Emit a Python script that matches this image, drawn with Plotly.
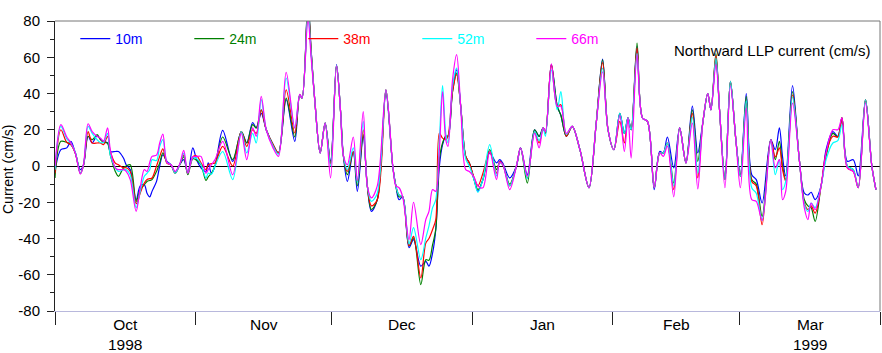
import pandas as pd
import plotly.graph_objects as go

start = pd.Timestamp("1998-10-01")

# time offsets (days since 1998-10-01)
days = [0, 1.3, 2.6, 3.5, 4.5, 5.6, 6.3, 7.3, 8.2, 9.3, 10, 10.7, 11.6, 12.2, 13.3, 14, 15.1, 15.7, 16.6,
        17.9, 18.8, 19.7, 20.3, 20.9, 21.4, 22.4, 23.1, 23.8, 24.7, 25.6, 26.5, 27.5, 28.4, 29.3, 30.4,
        31.3, 32.2, 33.3, 33.8, 34.5, 35.3, 37, 39.2, 41.1, 42.3, 43.6, 44.4, 45.5, 46.6, 48.1, 49.3,
        51, 52.9, 54, 54.5, 55.8, 56.5, 57.3, 58.5, 59.6, 60.8, 62.1, 63.0, 63.6, 64.5, 65.8, 66.7,
        68, 68.9, 69.8, 71.1, 73, 74.5, 75.2, 75.9, 76.7, 78.1, 79.1, 80.7, 81.8, 82.5, 83.3, 84,
        84.8, 85.5, 86.2, 86.7, 87.7, 88.6, 89.5, 90.6, 91.4, 92.4, 93.3, 94.4, 95.9, 97.4, 98.1,
        98.8, 100.3, 101.8, 102.7, 104.2, 105.8, 106.8, 107.7, 108.2, 109.5, 110.8, 111.6, 112.8,
        114.1, 115.8, 117.8, 119.4, 120.8, 122, 123.3, 124.6, 125.6, 126.4, 127.1, 128.4, 129.6,
        130.7, 132.2, 133.4, 134.2, 135.1, 136.5, 137.8, 139.2, 140.6, 141.8, 142.9, 144, 144.7,
        145.8, 146.6, 147.8, 149, 150.2, 151.2, 152.5, 153.7, 154.7, 156, 157.9, 158.9, 159.8,
        160.5, 161.2, 162.7, 164.2, 165.3, 166.1, 166.8, 167.7, 169, 170.1, 171.6, 172.7, 173.6,
        174.8, 176.1, 177.2, 178.8, 180.2, 181.1]

v10m = [-3, 9, 10, 13.6, 7, -2, 0.7, 16.4, 12.7, 16.7, 15, 13.6, 12.7, 8, 8, 8, 4.4, 0.7, -2,
        -18.6, -11, -10.3, -15, -17, -14, -8.5, 0, 6.2, 2.6, 0.7, -3.5, 0.7, 3.5, -4, 10,
        3, -1, -3, 1.7, -4, 0, 19.7, 2.6, 19, 12.7, 24, 21, 29, 20, 11.8, 7.2,
        36.6, 13.6, 39.3, 37.5, 90, 64, 36.6, 7.2, 23.7, 2.6, 55.9, 30, 6, -8.5, 8, -14,
        16.4, -11, -25, -18.6, 40, 0, -11, -18.6, -17, -45, -40.6, -55.3, -52.6, -55.3, -48, -35,
        0, 11.8, 16.4, 16.4, 42, 53, 33, 5.3, 1.7, -7, -14, -7.5, 7.2, 1.7, 3.5,
        1.5, -6.6, 0, 10, -4.8, 20, 16.4, 21, 18, 56, 33, 28, 16.4,
        21.9, 9, -12, 23.7, 59, 20, 9, 29, 18, 26.5, 20, 66, 26.5,
        24.6, -13, 8, 7.2, 16, -1, 21, 1.7, 33, 7.2, 23.7, 40, 31,
        59.5, 31, -7.5, 46.7, 14.5, -4.8, 40, -4.8, -7.5, -20.4, 14.5, 9, 21,
        5, -5.5, 44.3, 3.5, -14.9, -16, -14.5, -18.6, -11, 9, 19, 16.4, 26.5,
        2.6, 3.5, -5.5, 36.6, 0, -13]

v24m = [-6.6, 13.6, 13, 11.8, 7, -4, 0.5, 16.4, 14.5, 17.3, 14.5, 13, 12.7, 6, -3, -5.7, -1, 0, 0.7,
        -19.5, -13, -10.3, -8.5, -8, -7.5, -3, 1.7, 7.2, 2, 0.5, -4, 0.5, 5, -4.8, 4,
        3, 0.7, -8, -6, -4, 0, 16, 3.5, 19, 12.7, 22.8, 21, 31, 20, 11.8, 7.2,
        37.5, 16, 39.3, 37.5, 91, 64, 36.6, 7.2, 23.7, 1.5, 55.5, 30, 6, -4.8, 8, -11,
        17.3, -11, -24, -18.6, 42, 0, -11, -17, -17, -44, -39.7, -65.4, -51.7, -52, -43.4, -35,
        3.5, 12.7, 16.4, 16.4, 41, 51.3, 33, 5.3, 1.7, -7, -13, -7.5, 9, -2, 2,
        0.7, -10, 0, 10, -9.4, 20, 16.4, 21, 18, 56, 33, 28, 16.4,
        21.9, 9, -12, 23.7, 58.5, 20, 9, 29, 18, 26.5, 20, 67.8, 26.5,
        24.6, -12, 7.2, 7.2, 12.7, -9.4, 21, 1.7, 31, 2.6, 23.7, 40, 31,
        62, 31, -7.5, 46.7, 14.5, -5.7, 38.4, -7.5, -10, -27.8, 14.5, 3.5, 13.6,
        0, -7.5, 41, 3.5, -18.6, -22, -23, -30.5, -11, 5.3, 18, 16, 26.5,
        0, -2, -12, 36.6, 0, -13]

v38m = [-4, 20, 13, 11.8, 7, -4, 0.7, 19, 12.7, 12.7, 12.7, 11.8, 16.4, 8, 1.6, 0.7, -1, -1, -3,
        -20.8, -15, -9.4, -7.5, -7, -6.6, 0, 5.3, 9.4, 1.5, 0.7, -4, 0.7, 6, -4, 5,
        5.5, 1.7, -2, 0.7, 1.3, 1.7, 10.8, 0, 19, 10.8, 20, 18, 31, 20, 11.8, 7.2,
        42, 18.2, 39.3, 37.5, 88, 63, 36.6, 7.2, 23.7, 1, 55.5, 30, 6, -3, 8, -8.5,
        20, -11, -22, -18.6, 42, 0, -11, -16, -17, -44, -38.8, -61.8, -42.5, -40, -35, -29.6,
        18.2, 15.4, 14.5, 16.4, 41, 50.4, 33, 5.3, 1.7, -6, -11, -4, 8, -4, 2.5,
        0.7, -11, 0, 10, -6.6, 19, 12.7, 21, 18, 56, 33, 33.8, 16.4,
        21.9, 9, -12, 23.7, 57, 20, 9, 24.6, 12.7, 26.5, 20, 65, 26.5,
        24.6, -12, 7.2, 7.2, 12.7, -13, 21, 1.7, 29, -6.6, 23.7, 40, 31,
        61, 31, -7.5, 46.7, 14.5, -5.7, 34.7, -8.5, -11, -32.4, 14.5, 5, 10,
        -2, -8.5, 39.3, 3.5, -20.4, -24, -22, -26, -11, 7.2, 16.4, 16, 26.5,
        -1, -3, -12, 36.6, 0, -13]

v52m = [-2, 21.9, 15, 12.5, 7.5, -4, 0.7, 21.9, 18, 14.5, 13, 13, 18, 6, -1, -3, -2, -2, -5,
        -23, -14, -5.7, -4, -2, 3.5, 3, 10.8, 14.5, 2, 0.8, -4, 0.7, 7, -4, 4.5,
        4, 1, -6.6, -4, -4.5, 0, 8, -7.5, 19, 7.2, 18, 12.7, 36.6, 20, 11, 6.5,
        48.5, 21, 39.3, 37.5, 85, 62, 36.6, 7.2, 23.7, 0, 55.5, 30, 6, -2, 10, -9,
        24.6, -11, -19.5, -15, 42, 0, -11, -16, -17, -43, -34, -51.7, -39.7, -33, -23, -18.6,
        14.5, 44.3, 18.2, 12.7, 44, 54, 33, 4, 0, -7, -14.5, -7.5, 11.8, -5.5, 2,
        0.7, -11, 0, 10, -7, 19, 14, 21, 16.4, 53, 31, 41, 17.5,
        21.9, 9, -12, 23.7, 54, 20, 9, 29, 18, 26.5, 20, 62, 26.5,
        24.6, -12, 7.2, 7.2, 12.7, -11, 21, 1.7, 27, -4, 23.7, 40, 31,
        59.5, 31, -7.5, 46.7, 14.5, -5.7, 36, -12, -15, -30, 14.5, -4.8, 3.5,
        -13, -8.5, 38, 3.5, -21, -25, -20.5, -23, -11, 3.5, 12.7, 14, 22.8,
        0, -2, -12, 36.6, 0, -13]

v66m = [0, 22.8, 16, 12.7, 7, -4.5, 1, 23.3, 19, 16.4, 15.4, 13.6, 21, 9, -1, -2, -2, -3, -7.5,
        -25, -12, -2, -3, 2, 5.3, 6, 12.7, 17.6, 2, 0.7, -3, 1, 8.6, -4, 5,
        5.3, 5.3, -4, -2, 0.7, 3.5, 13.6, -4.8, 18, 3.5, 21, 16.4, 38.4, 20, 10, 5.3,
        51.7, 21, 39.5, 37.5, 81.6, 60, 36.6, 7.2, 23.7, -6.6, 55.3, 30, 6, 0.7, 16, -8,
        30, -11, -17.6, -11, 42, 0.7, -11, -12, -17, -40.6, -20, -43.4, -29.6, -25, -13, -14,
        9, 41, 14.5, 10.8, 47.6, 61.4, 33, -2, -3, -6, -11, -12, 8, -7.5, 2,
        0.7, -13, 0, 10, -5.5, 18, 10, 21, 19, 56.4, 33, 33, 18,
        21.9, 9, -12, 23.7, 52, 20, 9, 28, 8, 26.5, 4.4, 61.4, 26.5,
        24.6, -12, 7.2, 5.3, 11, -17, 21, 1.7, 23.7, -12.7, 23.7, 40, 31,
        56, 31, -12, 44, 14.5, -12, 32, -18.6, -19.5, -30, 14.5, -1, 3.5,
        -18.6, -14, 34.7, 3.5, -23, -29.6, -20.5, -24, -11, 7.2, 20, 20, 26.5,
        -1, -3, -12, 34.7, 0, -13]

series_names = ["10m", "24m", "38m", "52m", "66m"]
series_colors = ["#0000ff", "#008000", "#ff0000", "#00ffff", "#ff00ff"]
series_values = [v10m, v24m, v38m, v52m, v66m]

month_starts = ["1998-10-01", "1998-11-01", "1998-12-01", "1999-01-01", "1999-02-01", "1999-03-01", "1999-04-01"]
month_names = ["Oct", "Nov", "Dec", "Jan", "Feb", "Mar"]
year_labels = ["1998", "", "", "", "", "1999"]

ytick_vals = [-80, -60, -40, -20, 0, 20, 40, 60, 80]
ytick_text = ["-80", "-60", "-40", "-20", "0", "20", "40", "60", "80"]

x = start + pd.to_timedelta(days, unit="D")

FONT = "Liberation Sans, Arial, Helvetica, sans-serif"

fig = go.Figure()
for name, col, vals in zip(series_names, series_colors, series_values):
    fig.add_trace(go.Scatter(
        x=x, y=vals, mode="lines", line=dict(color=col, width=1.2, shape="spline", smoothing=0.9),
        name=f"<span style='color:{col}'>{name}</span>",
    ))

annotations = []
ms = pd.to_datetime(month_starts)
for i, mname in enumerate(month_names):
    mid = ms[i] + (ms[i + 1] - ms[i]) / 2
    label = mname + ("<br>" + year_labels[i] if year_labels[i] else "")
    annotations.append(dict(x=mid, y=0, xref="x", yref="paper", text=label, showarrow=False,
                            yanchor="top", yshift=-3, font=dict(size=15.5, family=FONT, color="black")))

annotations.append(dict(x=1, y=1, xref="paper", yref="paper", text="Northward LLP current (cm/s)",
                        showarrow=False, xanchor="right", yanchor="middle", xshift=-8, yshift=-29,
                        font=dict(size=15, family=FONT, color="black")))
annotations.append(dict(x=0, y=0.5, xref="paper", yref="paper", text="Current (cm/s)", textangle=-90,
                        showarrow=False, xanchor="center", yanchor="middle", xshift=-47, yshift=-4,
                        font=dict(size=14, family=FONT, color="black")))

fig.update_layout(
    width=882, height=353,
    margin=dict(l=55, r=2, t=21, b=42),
    paper_bgcolor="white", plot_bgcolor="white",
    font=dict(family=FONT, size=14, color="black"),
    showlegend=True,
    legend=dict(orientation="h", x=0.0246, y=0.993, xanchor="left", yanchor="top",
                entrywidth=69, entrywidthmode="pixels", bgcolor="rgba(0,0,0,0)",
                font=dict(size=14, family=FONT), tracegroupgap=0),
    annotations=annotations,
    shapes=[
        dict(type="line", xref="paper", yref="paper", x0=0, x1=1, y0=1, y1=1, line=dict(color="#777777", width=1)),
        dict(type="line", xref="paper", yref="paper", x0=1, x1=1, y0=0, y1=1, line=dict(color="#777777", width=1)),
    ],
)

fig.update_xaxes(
    type="date", range=[month_starts[0], month_starts[-1]],
    tickmode="array", tickvals=month_starts, ticktext=[""] * len(month_starts),
    ticks="outside", ticklen=13, tickcolor="#222222", tickwidth=1,
    showline=True, linecolor="#b8b8dc", linewidth=1,
    showgrid=False, zeroline=False,
)
fig.update_yaxes(
    range=[-80, 80], tickmode="array", tickvals=ytick_vals, ticktext=ytick_text,
    ticks="outside", ticklen=7, tickcolor="#222222", tickwidth=1,
    ticklabelstandoff=4,
    minor=dict(tickmode="linear", tick0=0, dtick=10, ticks="outside", ticklen=4, tickcolor="#222222"),
    showline=True, linecolor="#222222", linewidth=1,
    showgrid=False, zeroline=True, zerolinecolor="black", zerolinewidth=1,
    tickfont=dict(size=15, family=FONT, color="black"),
)

fig.write_html("out.html")
